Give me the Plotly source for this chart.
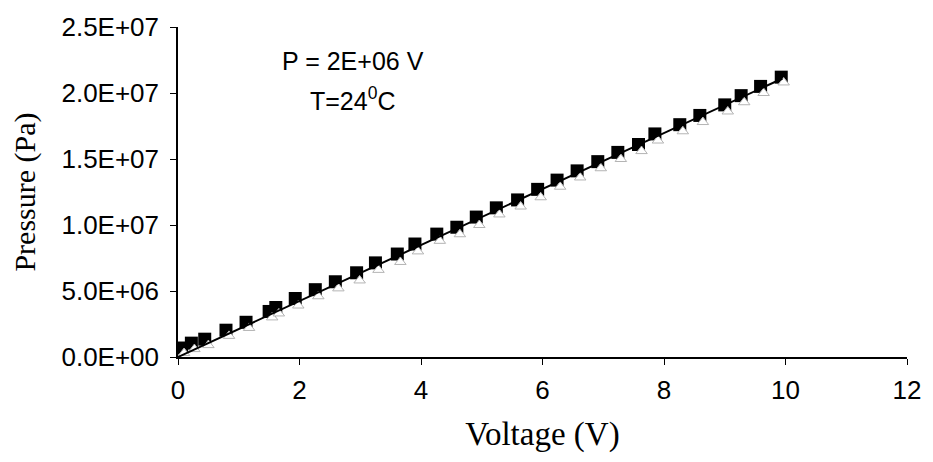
import plotly.graph_objects as go

# Data
sq_v = [0.06, 0.22, 0.44, 0.79, 1.12, 1.50, 1.61, 1.93, 2.26, 2.59, 2.94, 3.25, 3.61, 3.90,
        4.26, 4.59, 4.91, 5.24, 5.59, 5.92, 6.24, 6.57, 6.91, 7.24, 7.58, 7.85, 8.26, 8.59,
        9.00, 9.27, 9.59, 9.93]
sq_p = [0.68e6, 1.05e6, 1.35e6, 2.03e6, 2.63e6, 3.45e6, 3.75e6, 4.43e6, 5.10e6, 5.70e6,
        6.38e6, 7.13e6, 7.80e6, 8.56e6, 9.31e6, 9.83e6, 10.6e6, 11.3e6, 11.9e6, 12.7e6,
        13.4e6, 14.1e6, 14.8e6, 15.5e6, 16.1e6, 16.9e6, 17.6e6, 18.3e6, 19.1e6, 19.8e6,
        20.5e6, 21.2e6]
tri_v = [0.10, 0.27, 0.50, 0.84, 1.17, 1.55, 1.66, 1.98, 2.31, 2.64, 2.99, 3.30, 3.66, 3.95,
         4.31, 4.64, 4.96, 5.29, 5.64, 5.97, 6.29, 6.62, 6.96, 7.29, 7.63, 7.90, 8.31, 8.64,
         9.05, 9.32, 9.64, 9.97]
tri_p = [0.3e6, 0.6e6, 0.9e6, 1.6e6, 2.2e6, 3.0e6, 3.3e6, 3.9e6, 4.6e6, 5.2e6, 5.8e6,
         6.6e6, 7.2e6, 8.0e6, 8.8e6, 9.3e6, 10.0e6, 10.8e6, 11.4e6, 12.1e6, 12.9e6, 13.6e6,
         14.3e6, 15.0e6, 15.6e6, 16.4e6, 17.1e6, 17.8e6, 18.6e6, 19.3e6, 20.0e6, 20.8e6]
trend_v = [0.0, 9.95]
trend_p = [0.0, 2.11e7]

x_ticks = [0, 2, 4, 6, 8, 10, 12]
y_ticks = [0, 5e6, 1e7, 1.5e7, 2e7, 2.5e7]
y_ticktext = ["0.0E+00", "5.0E+06", "1.0E+07", "1.5E+07", "2.0E+07", "2.5E+07"]

fig = go.Figure()
fig.add_trace(go.Scatter(x=sq_v, y=sq_p, mode="markers",
                         marker=dict(symbol="square", size=13, color="black",
                                     line=dict(width=0))))
fig.add_trace(go.Scatter(x=tri_v, y=tri_p, mode="markers",
                         marker=dict(symbol="triangle-up", size=10, color="white",
                                     line=dict(width=1, color="#b4b4b4"))))
fig.add_trace(go.Scatter(x=trend_v, y=trend_p, mode="lines",
                         line=dict(color="black", width=2)))

fig.update_layout(
    width=933, height=462,
    margin=dict(l=178, r=17, t=24, b=105),
    paper_bgcolor="white", plot_bgcolor="white",
    showlegend=False,
    font=dict(family="Liberation Sans, Arial", size=26, color="black"),
    xaxis=dict(range=[0, 12], tickvals=x_ticks, ticktext=[str(t) for t in x_ticks],
               showgrid=False, zeroline=False, showline=True, linecolor="black",
               linewidth=1.5, ticks="outside", ticklen=6, tickcolor="black",
               tickfont=dict(size=26), ticklabelstandoff=3,
               title=dict(text="Voltage (V)", standoff=18,
                          font=dict(family="Liberation Serif, Times New Roman", size=33))),
    yaxis=dict(range=[0, 2.5e7], tickvals=y_ticks, ticktext=y_ticktext,
               showgrid=False, zeroline=False, showline=True, linecolor="black",
               linewidth=1.5, ticks="outside", ticklen=6, tickcolor="black",
               tickfont=dict(size=26), ticklabelstandoff=6,
               title=dict(text="Pressure (Pa)", standoff=17,
                          font=dict(family="Liberation Serif, Times New Roman", size=30))),
    annotations=[
        dict(text="P = 2E+06 V", x=355, y=58, xref="paper", yref="paper",
             xanchor="center", yanchor="middle", showarrow=False, font=dict(size=25)),
        dict(text="T=24<sup>0</sup>C", x=355, y=97, xref="paper", yref="paper",
             xanchor="center", yanchor="middle", showarrow=False, font=dict(size=25)),
    ],
)
# convert pixel positions of annotations into paper coordinates
pw, ph = 933 - 178 - 17, 462 - 24 - 105
for a in fig.layout.annotations:
    px, py = a.x, a.y
    a.x = (px - 178) / pw
    a.y = 1 - (py - 24) / ph

fig.write_html("out.html")
